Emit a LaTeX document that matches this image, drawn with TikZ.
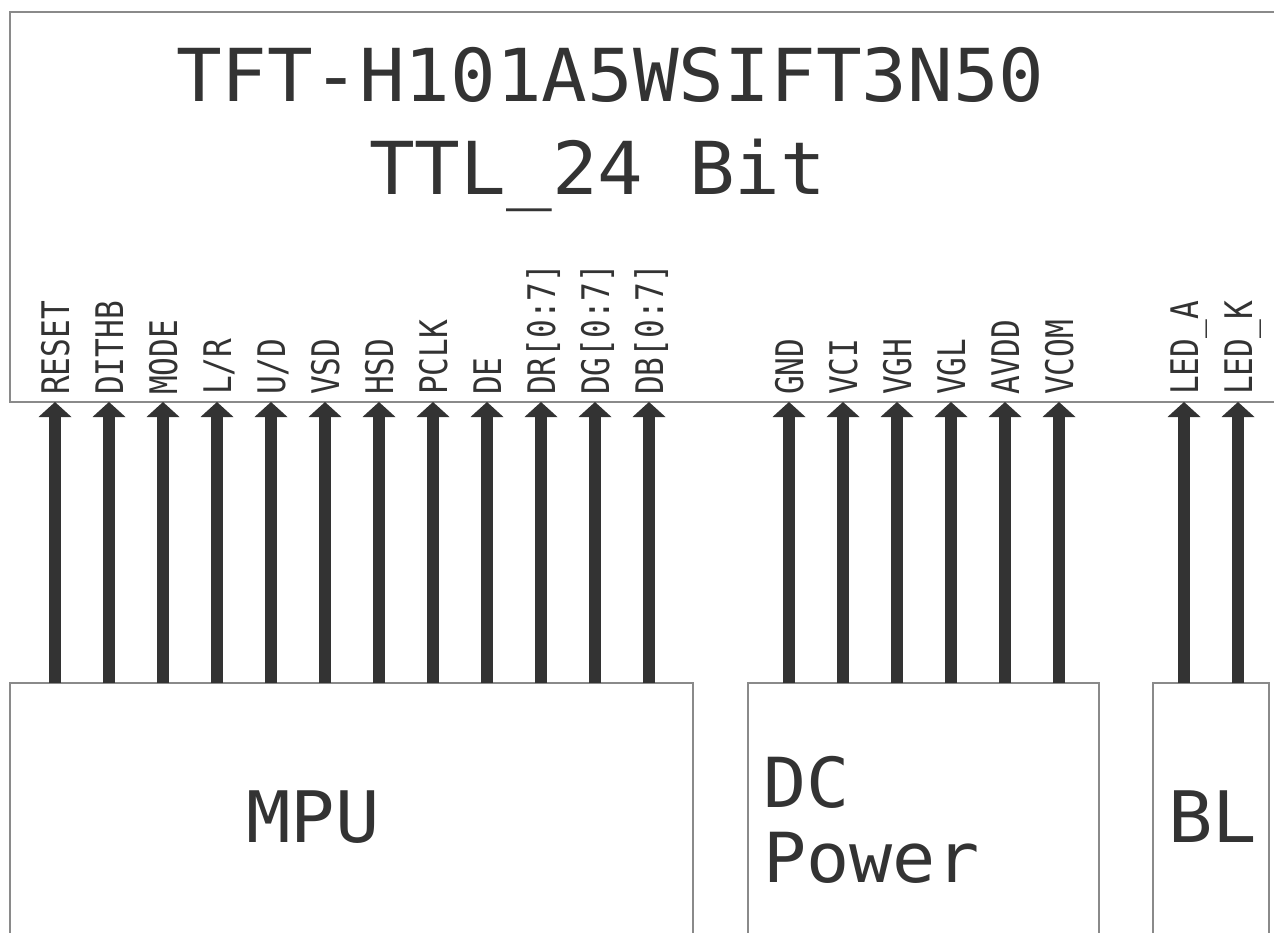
\documentclass[tikz,border=0pt]{standalone}
\usepackage{fontspec}
\usetikzlibrary{arrows.meta}
\newfontfamily\pinfont[FakeStretch=0.82]{DejaVu Sans Mono}
\newfontfamily\bigfont[FakeStretch=1.04]{DejaVu Sans Mono}
\definecolor{ink}{HTML}{333333}
\definecolor{edge}{HTML}{8A8A8A}

\begin{document}
\begin{tikzpicture}[x=1pt, y=-1pt]
  \tikzset{
    frame/.style={draw=edge, line width=1.5pt, inner sep=0pt, outer sep=0pt, anchor=north west},
    pinlabel/.style={text=ink, font=\pinfont\fontsize{38}{38}\selectfont, rotate=90, anchor=base west, inner sep=0pt},
    bigtext/.style={text=ink, anchor=base west, inner sep=0pt},
    sig/.style={draw=ink, line width=12pt, -{Triangle[length=15pt, width=33pt, line width=0pt]}}
  }
  \useasboundingbox (0,0) rectangle (1274,932);

  % panel and the three driving blocks
  \node[frame, minimum width=1300pt, minimum height=390pt] (lcd) at (10,12) {};
  \node[frame, minimum width=683pt, minimum height=300pt] (mpu) at (10,683) {};
  \node[frame, minimum width=351pt, minimum height=300pt] (dcp) at (748,683) {};
  \node[frame, minimum width=116pt, minimum height=300pt] (bl) at (1153,683) {};

  \node[bigtext, font=\bigfont\fontsize{73}{73}\selectfont] (title) at (176,101) {TFT-H101A5WSIFT3N50};
  \node[bigtext, font=\bigfont\fontsize{73}{73}\selectfont] (iface) at (369,194) {TTL\_24 Bit};
  \node[bigtext, font=\bigfont\fontsize{71}{71}\selectfont] (mputxt) at (246,842) {MPU};
  \node[bigtext, font=\bigfont\fontsize{69}{69}\selectfont] (dctxt) at (763,807) {DC};
  \node[bigtext, font=\bigfont\fontsize{69}{69}\selectfont] (powtxt) at (763,882) {Power};
  \node[bigtext, font=\bigfont\fontsize{71}{71}\selectfont] (bltxt) at (1168,842) {BL};

  % signal pins
  \foreach \name [count=\i from 0] in {RESET,DITHB,MODE,L/R,U/D,VSD,HSD,PCLK,DE,DR[0:7],DG[0:7],DB[0:7]} {
    \coordinate (m\i) at ({55+54*\i},402);
    \node[pinlabel] (ml\i) at ({69+54*\i},395) {\name};
    \draw[sig] (mpu.north -| m\i) -- (m\i);
  }
  % power pins
  \foreach \name [count=\i from 0] in {GND,VCI,VGH,VGL,AVDD,VCOM} {
    \coordinate (d\i) at ({789+54*\i},402);
    \node[pinlabel] (dl\i) at ({803+54*\i},395) {\name};
    \draw[sig] (dcp.north -| d\i) -- (d\i);
  }
  % backlight pins
  \foreach \name [count=\i from 0] in {LED\_A,LED\_K} {
    \coordinate (b\i) at ({1184+54*\i},402);
    \node[pinlabel] (bl\i) at ({1198+54*\i},395) {\name};
    \draw[sig] (bl.north -| b\i) -- (b\i);
  }
\end{tikzpicture}
\end{document}
